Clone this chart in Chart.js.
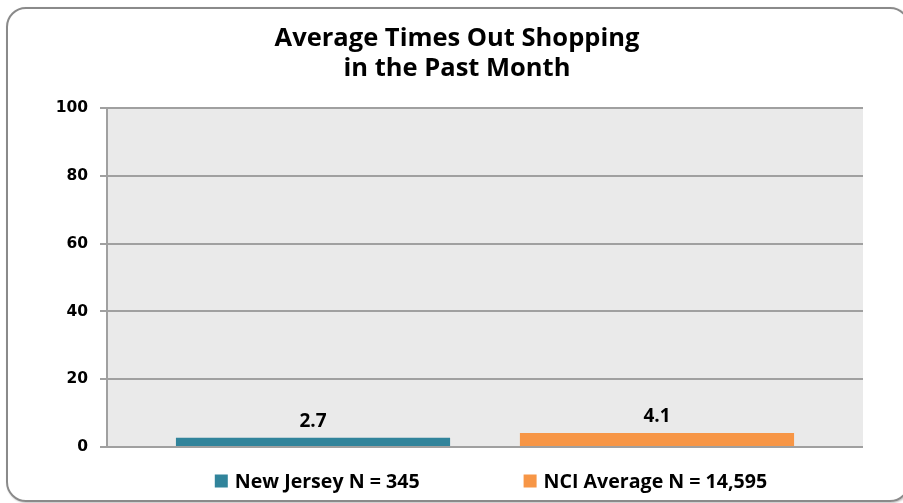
<!DOCTYPE html>
<html>
<head>
<meta charset="utf-8">
<script src="https://cdn.jsdelivr.net/npm/chart.js@4.4.1/dist/chart.umd.min.js"></script>
<style>
    html, body { margin: 0; padding: 0; background: #fff; overflow: hidden; }
    #frame {
        position: absolute; left: 6px; top: 7px; width: 900px; height: 491px;
        border: 2px solid #8a8a8a; border-radius: 20px;
        box-shadow: 1px 1px 2px rgba(0,0,0,0.25);
    }
    #wrap { position: absolute; left: 0; top: 0; width: 903px; height: 503px; }
</style>
</head>
<body>
<div id="frame"></div>
<div id="wrap"><canvas id="chart" width="903" height="503"></canvas></div>
<script>
var titleLines = ["Average Times Out Shopping", "in the Past Month"];
var categories = [""];
var seriesNames = ["New Jersey N = 345", "NCI Average N = 14,595"];
var newJerseyValues = [2.7];
var nciAverageValues = [4.1];
var yTicks = [0, 20, 40, 60, 80, 100];

var FONT = "'Open Sans', 'DejaVu Sans', sans-serif";
var TICKFONT = "'DejaVu Sans', 'Open Sans', sans-serif";

// grey plot background
var plotBg = {
    id: 'plotBg',
    beforeDraw: function (chart) {
        var a = chart.chartArea, ctx = chart.ctx;
        ctx.save();
        ctx.fillStyle = '#eaeaea';
        ctx.fillRect(a.left, a.top, a.right - a.left, a.bottom - a.top);
        ctx.restore();
    }
};

// value labels above bars
var valueLabels = {
    id: 'valueLabels',
    afterDatasetsDraw: function (chart) {
        var ctx = chart.ctx;
        ctx.save();
        ctx.font = 'bold 19px ' + FONT;
        ctx.fillStyle = '#000';
        ctx.textAlign = 'center';
        ctx.textBaseline = 'bottom';
        chart.data.datasets.forEach(function (ds, i) {
            chart.getDatasetMeta(i).data.forEach(function (bar, j) {
                ctx.fillText(ds.data[j].toFixed(1), bar.x, bar.y - 7);
            });
        });
        ctx.restore();
    }
};

// legend under the plot, spaced like the original
var bottomLegend = {
    id: 'bottomLegend',
    afterDraw: function (chart) {
        var ctx = chart.ctx, a = chart.chartArea;
        var box = 13, gapText = 7, gapItems = 104;
        ctx.save();
        ctx.font = 'bold 19.6px ' + FONT;
        ctx.textBaseline = 'middle';
        var widths = chart.data.datasets.map(function (ds) {
            return box + gapText + ctx.measureText(ds.label).width;
        });
        var total = widths[0] + gapItems + widths[1];
        var x = (a.left + a.right) / 2 + 6 - total / 2;
        var y = 481;
        chart.data.datasets.forEach(function (ds, i) {
            ctx.fillStyle = ds.backgroundColor;
            ctx.fillRect(x, y - box / 2, box, box);
            ctx.fillStyle = '#000';
            ctx.fillText(ds.label, x + box + gapText, y + 1);
            x += widths[i] + gapItems;
        });
        ctx.restore();
    }
};

var ctx = document.getElementById('chart').getContext('2d');
var chart = new Chart(ctx, {
    type: 'bar',
    data: {
        labels: categories,
        datasets: [
            {
                label: seriesNames[0],
                data: newJerseyValues,
                backgroundColor: '#31849b',
                barPercentage: 0.797,
                categoryPercentage: 0.91
            },
            {
                label: seriesNames[1],
                data: nciAverageValues,
                backgroundColor: '#f79646',
                barPercentage: 0.797,
                categoryPercentage: 0.91
            }
        ]
    },
    options: {
        responsive: false,
        animation: false,
        layout: { padding: { left: 11, right: 0, top: 0, bottom: 56 } },
        plugins: {
            legend: { display: false },
            tooltip: { enabled: false },
            title: {
                display: true,
                text: titleLines,
                color: '#000',
                font: { family: FONT, size: 25.5, weight: 'bold', lineHeight: 1.2 },
                padding: { top: 23, bottom: 24 }
            }
        },
        scales: {
            x: {
                display: false
            },
            y: {
                min: 0,
                max: 100,
                afterBuildTicks: function (scale) {
                    scale.ticks = yTicks.map(function (v) { return { value: v }; });
                },
                afterFit: function (scale) { scale.width = 96; },
                grid: { color: '#a0a0a0', lineWidth: 2, tickLength: 7 },
                border: { color: '#a0a0a0', width: 2 },
                ticks: {
                    color: '#000',
                    padding: 12,
                    font: { family: TICKFONT, size: 15.5, weight: 'bold' }
                }
            },
            // empty right-hand margin so the title centres like the original
            yRight: {
                position: 'right',
                afterFit: function (scale) { scale.width = 40; },
                ticks: { display: false },
                grid: { display: false },
                border: { display: false }
            }
        }
    },
    plugins: [plotBg, valueLabels, bottomLegend]
});
</script>
</body>
</html>
